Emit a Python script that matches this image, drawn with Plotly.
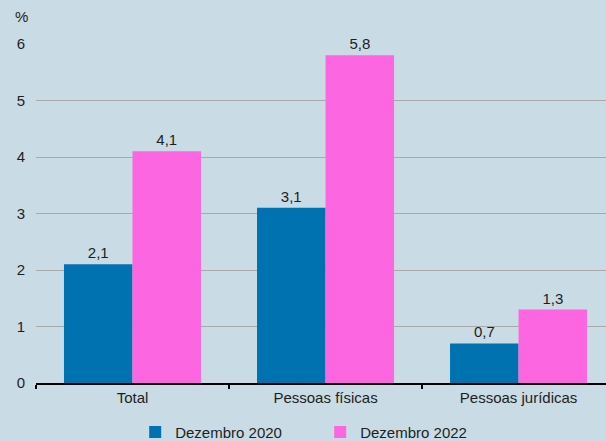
import plotly.graph_objects as go

categories = ["Total", "Pessoas físicas", "Pessoas jurídicas"]
dez_2020 = [2.1, 3.1, 0.7]
dez_2022 = [4.1, 5.8, 1.3]
y_ticks = [0, 1, 2, 3, 4, 5, 6]

BG = "#c9dbe4"
BLUE = "#0072b0"
PINK = "#fc66e0"
FONT = "Liberation Sans, Arial, sans-serif"
TXT = "#1e1e1e"


def fmt(v):
    return f"{v:.1f}".replace(".", ",")


fig = go.Figure()
fig.add_trace(go.Bar(
    x=categories, y=dez_2020, name="Dezembro 2020",
    marker=dict(color=BLUE, line=dict(width=0)),
    text=[fmt(v) for v in dez_2020], textposition="outside",
    textfont=dict(size=15, color=TXT), cliponaxis=False,
))
fig.add_trace(go.Bar(
    x=categories, y=dez_2022, name="Dezembro 2022",
    marker=dict(color=PINK, line=dict(width=0)),
    text=[fmt(v) for v in dez_2022], textposition="outside",
    textfont=dict(size=15, color=TXT), cliponaxis=False,
))

fig.update_layout(
    width=606, height=441,
    paper_bgcolor=BG, plot_bgcolor=BG,
    font=dict(family=FONT, size=15, color=TXT),
    margin=dict(l=36, r=0, t=44, b=58, autoexpand=False),
    barmode="group", bargap=0.29, bargroupgap=0,
    showlegend=True,
    legend=dict(
        orientation="h", x=0.174, xanchor="left", y=-0.145, yanchor="middle",
        font=dict(size=15, color=TXT), bgcolor="rgba(0,0,0,0)",
        entrywidth=140, entrywidthmode="pixels", itemwidth=30,
    ),
    xaxis=dict(
        range=[-0.5, 2.453], showgrid=False, automargin=False,
        showline=True, linecolor="#000000", linewidth=2,
        ticks="outside", tickson="boundaries", ticklen=4, tickcolor="#000000", tickwidth=2,
        tickfont=dict(size=15, color=TXT),
    ),
    yaxis=dict(
        range=[0, 6], tickvals=y_ticks, ticktext=[str(t) for t in y_ticks],
        showgrid=True, gridcolor="#a9a9a9", gridwidth=1, automargin=False,
        zeroline=False, showline=False, ticks="",
        ticklabelstandoff=10,
        tickfont=dict(size=15, color=TXT),
    ),
    annotations=[dict(
        text="%", xref="paper", yref="paper", x=-0.025, y=1.08,
        xanchor="center", yanchor="middle", showarrow=False,
        font=dict(size=15, color=TXT),
    )],
)

fig.write_html("out.html")
